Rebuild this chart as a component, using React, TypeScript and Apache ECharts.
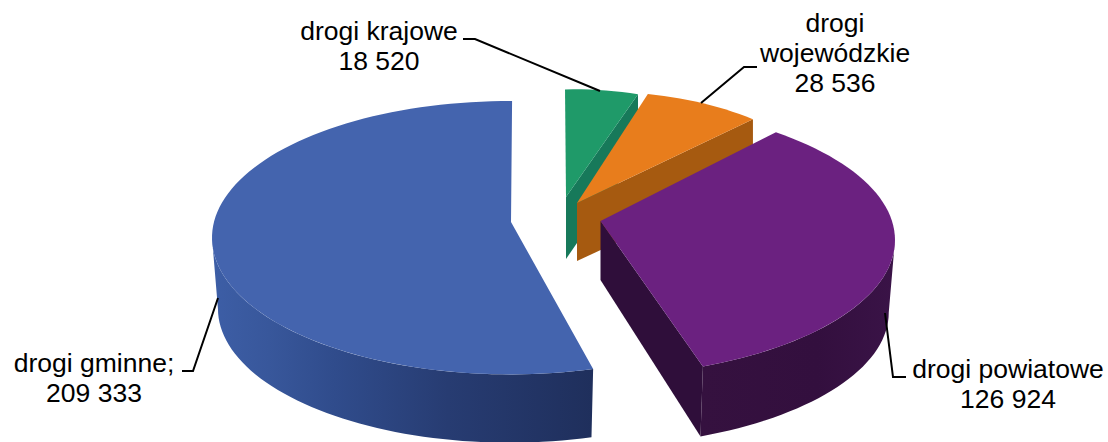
import React, { useEffect, useRef } from "react";
import * as echarts from "echarts";

// Road length by road category (km)
const categories = ["drogi krajowe", "drogi\nwojewódzkie", "drogi powiatowe", "drogi gminne;"];
const roadLengths = [18520, 28536, 126924, 209333];

const formatKm = (v: number) => String(v).replace(/\B(?=(\d{3})+$)/g, " ");
const total = roadLengths.reduce((s, v) => s + v, 0);

// Projected geometry of each exploded slice: apex, ellipse of its rim, wall depth.
const sliceLayout = [
  { apex: [566, 197], cx: 573.5, cy: 226.3, a: 243, b: 137, turn: -2, shrink: 1, rim: 60, core: 62, top: "#1f9a69", core_fill: "#17795a" },
  { apex: [577, 203], cx: 605, cy: 229, a: 247, b: 137, turn: -7.4, shrink: 1, rim: 60, core: 58, top: "#e87d1c", core_fill: "#a65a10" },
  { apex: [600.5, 221], cx: 583, cy: 240, a: 312, b: 137, turn: -6, shrink: 0.98, rim: 72.5, core: 59, top: "#6b2180", core_fill: "#2f0e3a",
    wall: [[0, "#35113f"], [0.6, "#330f3e"], [1, "#3a1347"]], wallRange: (start: number, end: number) => [90, end] },
  { apex: [511, 222], cx: 510, cy: 237.7, a: 298, b: 136.7, turn: 0.4, shrink: 0.98, rim: 71, core: 0, top: "#4464ae", core_fill: "",
    wall: [[0, "#3d5ea6"], [0.15, "#38579b"], [0.32, "#304c8c"], [0.62, "#273c72"], [1, "#1f2f5c"]], wallRange: (start: number, end: number) => [start, 270] },
];

// Leader lines and label anchors, in the order of the categories
const labelCentres = [[379, 46], [835, 53], [1008, 384], [94, 378]];
const leaders = [
  [[463, 39], [475, 39], [600, 91]],
  [[757, 67], [744, 67], [701, 103]],
  [[906, 377], [893, 377], [885, 313]],
  [[182, 371], [193, 371], [218, 298]],
];

const rad = (d: number) => (d * Math.PI) / 180;

function rimPoint(s: any, deg: number, lower: boolean) {
  const k = lower ? s.shrink : 1;
  return [
    s.cx + s.a * k * Math.sin(rad(deg)),
    s.cy + (lower ? s.rim : 0) - s.b * k * Math.cos(rad(deg)),
  ];
}

function arc(s: any, from: number, to: number, lower: boolean) {
  const steps = Math.max(8, Math.ceil(Math.abs(to - from) / 2));
  const pts: number[][] = [];
  for (let i = 0; i <= steps; i++) pts.push(rimPoint(s, from + ((to - from) * i) / steps, lower));
  return pts;
}

function renderSlice(params: any, api: any) {
  const i = params.dataIndex;
  const s: any = sliceLayout[i];
  const before = roadLengths.slice(0, i).reduce((acc, v) => acc + v, 0);
  const start = (before / total) * 360 + s.turn;
  const end = start + (api.value(0) / total) * 360;
  const children: any[] = [];

  if (s.core) {
    const lowerApex = [s.apex[0], s.apex[1] + s.core];
    children.push({
      type: "polygon",
      shape: { points: [s.apex, rimPoint(s, end, false), rimPoint(s, end, true), lowerApex] },
      style: { fill: s.core_fill },
    });
  }
  if (s.wall) {
    const [from, to] = s.wallRange(start, end);
    children.push({
      type: "polygon",
      shape: { points: [...arc(s, from, to, false), ...arc(s, to, from, true)] },
      style: {
        fill: new echarts.graphic.LinearGradient(
          0, 0, 1, 0,
          s.wall.map(([offset, color]: any) => ({ offset, color })),
        ),
      },
    });
  }
  children.push({
    type: "polygon",
    shape: { points: [s.apex, ...arc(s, start, end, false)] },
    style: { fill: s.top },
  });
  return { type: "group", children };
}

export default function App() {
  const ref = useRef<HTMLDivElement>(null);
  useEffect(() => {
    const chart = echarts.init(ref.current!, undefined, { renderer: "svg" });
    chart.setOption({
      animation: false,
      backgroundColor: "#ffffff",
      series: [
        {
          type: "custom",
          coordinateSystem: "none",
          renderItem: renderSlice,
          data: roadLengths.map((v) => [v]),
          silent: true,
        },
      ],
      graphic: [
        ...leaders.map((points) => ({
          type: "polyline",
          z: 10,
          shape: { points },
          style: { stroke: "#000000", lineWidth: 2, fill: "none" },
        })),
        ...categories.map((name, i) => ({
          type: "text",
          z: 10,
          x: labelCentres[i][0],
          y: labelCentres[i][1],
          style: {
            text: `${name}\n${formatKm(roadLengths[i])}`,
            font: '26.5px "Liberation Sans", Arial, sans-serif',
            fill: "#000000",
            align: "center",
            verticalAlign: "middle",
            lineHeight: 30,
          },
        })),
      ],
    });
    return () => chart.dispose();
  }, []);
  return <div ref={ref} style={{ position: "absolute", left: 0, top: 0, width: 1108, height: 442 }} />;
}
